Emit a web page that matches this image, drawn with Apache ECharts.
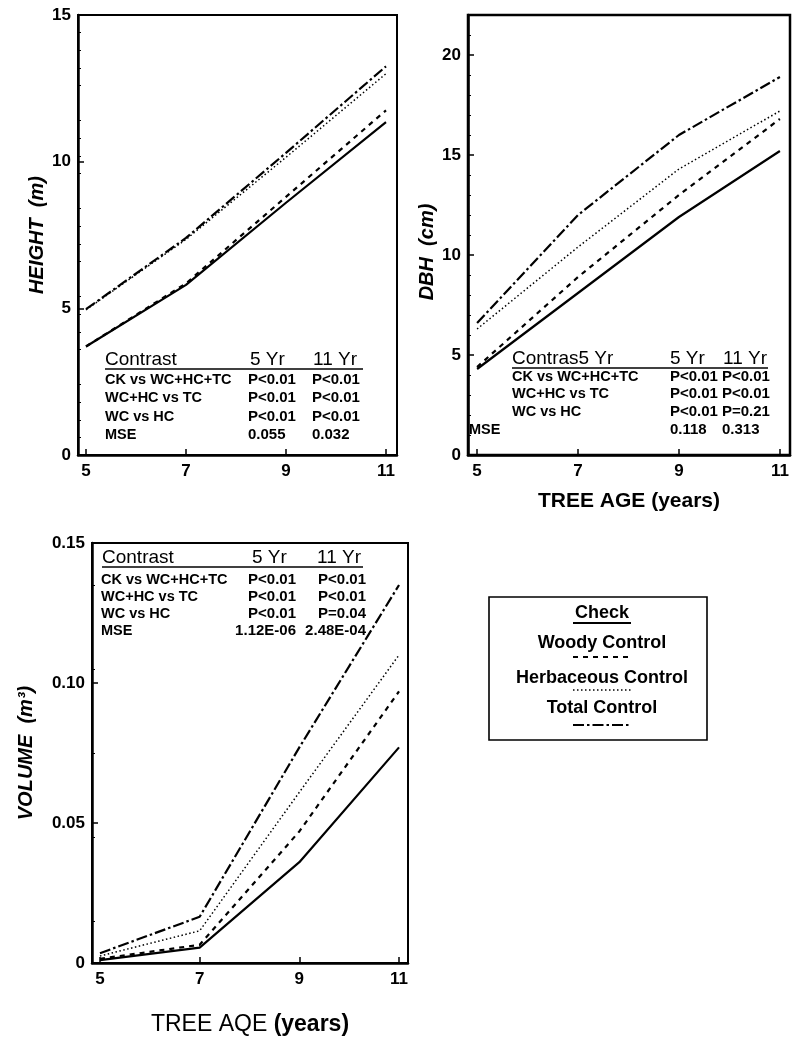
<!DOCTYPE html>
<html>
<head>
<meta charset="utf-8">
<script src="https://cdn.jsdelivr.net/npm/echarts@6/dist/echarts.min.js"></script>
<style>
html,body{margin:0;padding:0;background:#fff;}
#c{width:799px;height:1047px;}
</style>
</head>
<body>
<div id="c"></div>
<script>
// ---------- data ----------
const ages = [5, 7, 9, 11];
const treatments = ['Check', 'Woody Control', 'Herbaceous Control', 'Total Control'];

const heightCheck = [3.7, 5.8, 8.6, 11.35];
const heightWoody = [3.7, 5.85, 8.8, 11.75];
const heightHerb  = [4.95, 7.35, 10.15, 13.0];
const heightTotal = [4.97, 7.4, 10.3, 13.25];

const dbhCheck = [4.3, 8.1, 11.9, 15.2];
const dbhWoody = [4.4, 8.9, 13.0, 16.8];
const dbhHerb  = [6.3, 10.4, 14.3, 17.2];
const dbhTotal = [6.6, 12.0, 16.0, 18.9];

const volCheck = [0.001, 0.0055, 0.036, 0.077];
const volWoody = [0.0015, 0.0065, 0.047, 0.097];
const volHerb  = [0.0025, 0.0115, 0.061, 0.110];
const volTotal = [0.0035, 0.0165, 0.077, 0.135];

const heightTicks = [0, 5, 10, 15];
const dbhTicks = [0, 5, 10, 15, 20];
const volTicks = [0, 0.05, 0.10, 0.15];
const volTickLabels = ['0', '0.05', '0.10', '0.15'];

const contrastHeader = ['Contrast', '5 Yr', '11 Yr'];
const dbhHeader = ['Contras5 Yr', '5 Yr', '11 Yr'];
const contrastRows = ['CK vs WC+HC+TC', 'WC+HC vs TC', 'WC vs HC', 'MSE'];
const heightP5  = ['P<0.01', 'P<0.01', 'P<0.01', '0.055'];
const heightP11 = ['P<0.01', 'P<0.01', 'P<0.01', '0.032'];
const dbhP5  = ['P<0.01', 'P<0.01', 'P<0.01', '0.118'];
const dbhP11 = ['P<0.01', 'P<0.01', 'P=0.21', '0.313'];
const volP5  = ['P<0.01', 'P<0.01', 'P<0.01', '1.12E-06'];
const volP11 = ['P<0.01', 'P<0.01', 'P=0.04', '2.48E-04'];

// ---------- styles ----------
const FONT = '"Liberation Sans", Arial, sans-serif';
const lineStyles = [
  {color: '#000', width: 2.2, type: 'solid'},
  {color: '#000', width: 2.2, type: [5, 5]},
  {color: '#000', width: 1.5, type: [1.5, 2.5]},
  {color: '#000', width: 2.2, type: [11, 3, 2.5, 3]}
];

function pairs(vals) { return ages.map((a, i) => [a, vals[i]]); }

const panels = [
  {vals: [heightCheck, heightWoody, heightHerb, heightTotal]},
  {vals: [dbhCheck, dbhWoody, dbhHerb, dbhTotal]},
  {vals: [volCheck, volWoody, volHerb, volTotal]}
];

const series = [];
panels.forEach((p, gi) => {
  p.vals.forEach((v, si) => {
    series.push({
      type: 'line', name: treatments[si], xAxisIndex: gi, yAxisIndex: gi,
      data: pairs(v), showSymbol: false, symbol: 'none', silent: true,
      lineStyle: lineStyles[si], z: 3
    });
  });
});

function xAxis(gi, min, max, name, nameGap, nameStyle) {
  return {
    type: 'value', gridIndex: gi, min: min, max: max,
    axisLine: {show: true, onZero: false, lineStyle: {color: '#000', width: 2.5}},
    axisTick: {show: true, inside: true, length: 6, customValues: ages, lineStyle: {color: '#000', width: 1.5}},
    axisLabel: {customValues: ages, color: '#000', fontFamily: FONT, fontWeight: 'bold', fontSize: 17, margin: 8},
    splitLine: {show: false},
    name: name, nameLocation: 'middle', nameGap: nameGap, nameTextStyle: nameStyle
  };
}
function yAxis(gi, min, max, ticks, fmt, minorSplit, name, nameGap, nameStyle) {
  return {
    type: 'value', gridIndex: gi, min: min, max: max,
    axisLine: {show: true, onZero: false, lineStyle: {color: '#000', width: 2.5}},
    axisTick: {show: true, inside: true, length: 6, customValues: ticks, lineStyle: {color: '#000', width: 1.5}},
    minorTick: {show: true, splitNumber: minorSplit, length: 3, lineStyle: {color: '#000', width: 1}},
    axisLabel: {customValues: ticks, formatter: fmt, color: '#000', fontFamily: FONT, fontWeight: 'bold', fontSize: 17, margin: 7},
    splitLine: {show: false},
    name: name, nameLocation: 'middle', nameRotate: 90, nameGap: nameGap, nameTextStyle: nameStyle
  };
}

const yNameStyle = {color: '#000', fontFamily: FONT, fontWeight: 'bold', fontStyle: 'italic', fontSize: 20};

// ---------- tables ----------
const graphics = [];
function txt(x, y, s, opts) {
  graphics.push({
    type: 'text', x: x, y: y, silent: true,
    style: Object.assign({text: s, fill: '#000', font: 'bold 15px ' + FONT, align: 'left', verticalAlign: 'middle'}, opts || {})
  });
}
function hline(x1, x2, y, w, dash) {
  graphics.push({type: 'line', silent: true, shape: {x1: x1, y1: y, x2: x2, y2: y},
    style: {stroke: '#000', lineWidth: w || 1.5, lineDash: dash || null}});
}
function table(cfg) {
  const hs = {font: '19px ' + FONT};
  txt(cfg.hx[0], cfg.hy, cfg.header[0], hs);
  txt(cfg.hx[1], cfg.hy, cfg.header[1], hs);
  txt(cfg.hx[2], cfg.hy, cfg.header[2], hs);
  hline(cfg.ux[0], cfg.ux[1], cfg.uy, 1.6);
  contrastRows.forEach((r, i) => {
    const lx = (i === 3 && cfg.mseX !== undefined) ? cfg.mseX : cfg.lx;
    txt(lx, cfg.ry[i], r, {font: 'bold 14.5px ' + FONT});
    txt(cfg.c1[i], cfg.ry[i], cfg.p5[i], {align: cfg.align});
    txt(cfg.c2[i], cfg.ry[i], cfg.p11[i], {align: cfg.align});
  });
}
table({header: contrastHeader, hx: [105, 250, 313], hy: 360, ux: [105, 363], uy: 369,
  lx: 105, ry: [380, 398, 417, 435], c1: [248, 248, 248, 248], c2: [312, 312, 312, 312],
  p5: heightP5, p11: heightP11, align: 'left'});
table({header: dbhHeader, hx: [512, 670, 723], hy: 359, ux: [512, 768], uy: 368,
  lx: 512, mseX: 469, ry: [377, 394, 412, 430], c1: [670, 670, 670, 670], c2: [722, 722, 722, 722],
  p5: dbhP5, p11: dbhP11, align: 'left'});
table({header: contrastHeader, hx: [102, 252, 317], hy: 558, ux: [102, 363], uy: 567,
  lx: 101, ry: [580, 597, 614, 631], c1: [296, 296, 296, 296], c2: [366, 366, 366, 366],
  p5: volP5, p11: volP11, align: 'right'});

// ---------- legend box ----------
graphics.push({type: 'rect', silent: true, shape: {x: 489, y: 597, width: 218, height: 143},
  style: {fill: 'none', stroke: '#000', lineWidth: 1.6}});
const legTextY = [613, 643, 678, 708];
const legLineY = [623, 657, 690, 725];
treatments.forEach((t, i) => {
  txt(602, legTextY[i], t, {align: 'center', font: 'bold 18px ' + FONT});
  const ls = lineStyles[i];
  hline(573, 631, legLineY[i], ls.width, Array.isArray(ls.type) ? ls.type : null);
});

// ---------- chart ----------
const chart = echarts.init(document.getElementById('c'), null, {renderer: 'canvas'});
chart.setOption({
  animation: false,
  backgroundColor: '#fff',
  grid: [
    {left: 78, top: 15, width: 319, height: 440, show: true, borderColor: '#000', borderWidth: 2, containLabel: false},
    {left: 468, top: 15, width: 322, height: 440, show: true, borderColor: '#000', borderWidth: 2.5, containLabel: false},
    {left: 92, top: 543, width: 316, height: 420, show: true, borderColor: '#000', borderWidth: 2, containLabel: false}
  ],
  xAxis: [
    xAxis(0, 4.84, 11.22, '', 30, {}),
    xAxis(1, 4.82, 11.2, 'TREE AGE (years)', 36,
      {color: '#000', fontFamily: FONT, fontWeight: 'bold', fontSize: 21}),
    xAxis(2, 4.84, 11.18, '{a|TREE AQE }{b|(years)}', 50,
      {color: '#000', fontFamily: FONT, rich: {
        a: {fontSize: 23, fontFamily: FONT, color: '#000'},
        b: {fontSize: 23, fontFamily: FONT, fontWeight: 'bold', color: '#000'}}})
  ],
  yAxis: [
    yAxis(0, 0, 15, heightTicks, null, 5, 'HEIGHT  (m)', 31, yNameStyle),
    yAxis(1, 0, 22, dbhTicks, null, 5, 'DBH  (cm)', 31, Object.assign({}, yNameStyle, {padding: [0, 34, 0, 0]})),
    yAxis(2, 0, 0.15, volTicks, function (v) {
      const i = volTicks.findIndex(t => Math.abs(t - v) < 1e-9);
      return i >= 0 ? volTickLabels[i] : '';
    }, 2, 'VOLUME  (m³)', 56, yNameStyle)
  ],
  series: series,
  graphic: {elements: graphics}
});
</script>
</body>
</html>
